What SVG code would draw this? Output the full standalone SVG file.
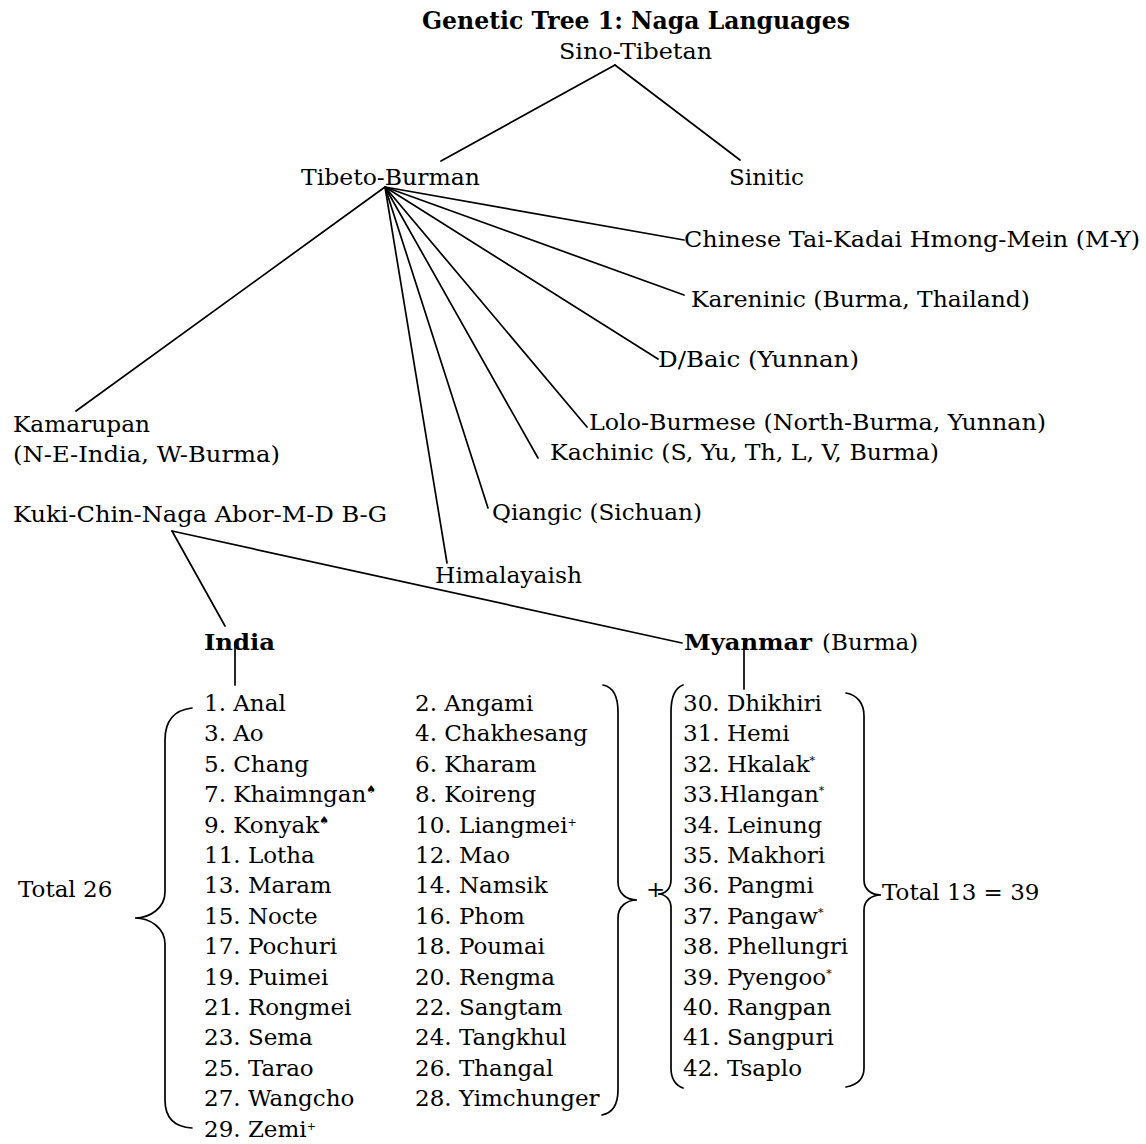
<svg xmlns="http://www.w3.org/2000/svg" width="1146" height="1144" viewBox="0 0 1146 1144">
<style>
text{font-family:"DejaVu Serif","Liberation Serif",serif;font-size:23px;fill:#000}
.b{font-weight:bold}
.t{font-size:24px}
.sup{font-size:11px}
.ln{stroke:#000;stroke-width:1.7;fill:none;stroke-linecap:round}
</style>
<rect width="1146" height="1144" fill="#fff"/>
<g id="connectors" class="ln">
<line x1="615" y1="65" x2="441" y2="161"/>
<line x1="615" y1="65" x2="740" y2="160"/>
<line x1="385" y1="187" x2="76" y2="411"/>
<line x1="385" y1="187" x2="447" y2="563"/>
<line x1="385" y1="187" x2="488" y2="508"/>
<line x1="385" y1="187" x2="538" y2="458"/>
<line x1="385" y1="187" x2="587" y2="427"/>
<line x1="385" y1="187" x2="658" y2="359"/>
<line x1="385" y1="187" x2="684" y2="295"/>
<line x1="385" y1="187" x2="684" y2="240"/>
<line x1="172" y1="531" x2="225" y2="626"/>
<line x1="172" y1="531" x2="682" y2="643"/>
<line x1="235" y1="642" x2="235" y2="685"/>
<line x1="744" y1="642" x2="744" y2="689"/>
<path d="M192,708 C175,710 165,720 165,740 L165,892 C165,908 150,918 135,918 C150,918 165,928 165,944 L165,1100 C165,1118 175,1127 192,1128"/>
<path d="M603,685 C613,687 618,697 618,712 L618,882 C618,894 627,900 637,900 C627,900 618,906 618,918 L618,1090 C618,1105 612,1113 602,1115"/>
<path d="M683,685 C675,688 671,698 671,712 L671,880 C671,889 665,894 658,894 C665,894 671,899 671,908 L671,1068 C671,1078 675,1085 683,1088"/>
<path d="M846,693 C857,695 864,703 864,716 L864,880 C864,890 872,895 881,895 C872,895 864,900 864,910 L864,1068 C864,1080 857,1085 846,1087"/>
</g>
<g id="title"><text class="b t" x="422" y="29" textLength="428" lengthAdjust="spacingAndGlyphs">Genetic Tree 1: Naga Languages</text></g>
<g id="sino-tibetan"><text x="559" y="59" textLength="153" lengthAdjust="spacingAndGlyphs">Sino-Tibetan</text></g>
<g id="tibeto-burman"><text x="301" y="185" textLength="179" lengthAdjust="spacingAndGlyphs">Tibeto-Burman</text></g>
<g id="sinitic"><text x="729" y="185" textLength="75" lengthAdjust="spacingAndGlyphs">Sinitic</text></g>
<g id="chinese"><text x="684" y="247" textLength="456" lengthAdjust="spacingAndGlyphs">Chinese Tai-Kadai Hmong-Mein (M-Y)</text></g>
<g id="kareninic"><text x="691" y="307" textLength="339" lengthAdjust="spacingAndGlyphs">Kareninic (Burma, Thailand)</text></g>
<g id="baic"><text x="658" y="367" textLength="201" lengthAdjust="spacingAndGlyphs">D/Baic (Yunnan)</text></g>
<g id="lolo"><text x="589" y="430" textLength="457" lengthAdjust="spacingAndGlyphs">Lolo-Burmese (North-Burma, Yunnan)</text></g>
<g id="kachinic"><text x="550" y="460" textLength="389" lengthAdjust="spacingAndGlyphs">Kachinic (S, Yu, Th, L, V, Burma)</text></g>
<g id="qiangic"><text x="492" y="520" textLength="210" lengthAdjust="spacingAndGlyphs">Qiangic (Sichuan)</text></g>
<g id="himalayaish"><text x="435" y="583" textLength="147" lengthAdjust="spacingAndGlyphs">Himalayaish</text></g>
<g id="kamarupan">
<text x="13" y="432" textLength="137" lengthAdjust="spacingAndGlyphs">Kamarupan</text>
<text x="13" y="462" textLength="267" lengthAdjust="spacingAndGlyphs">(N-E-India, W-Burma)</text>
</g>
<g id="kuki"><text x="13" y="522" textLength="374" lengthAdjust="spacingAndGlyphs">Kuki-Chin-Naga Abor-M-D B-G</text></g>
<g id="india"><text class="b" x="204" y="650" textLength="71" lengthAdjust="spacingAndGlyphs">India</text></g>
<g id="myanmar"><text x="684" y="650"><tspan class="b" textLength="128" lengthAdjust="spacingAndGlyphs">Myanmar</tspan><tspan x="822">(Burma)</tspan></text></g>
<g id="india-list">
<text x="204" y="711">1. Anal</text>
<text x="204" y="741">3. Ao</text>
<text x="204" y="772">5. Chang</text>
<text x="204" y="802">7. Khaimngan<tspan class="sup" dy="-9">♠</tspan></text>
<text x="204" y="833">9. Konyak<tspan class="sup" dy="-9">♠</tspan></text>
<text x="204" y="863">11. Lotha</text>
<text x="204" y="893">13. Maram</text>
<text x="204" y="924">15. Nocte</text>
<text x="204" y="954">17. Pochuri</text>
<text x="204" y="985">19. Puimei</text>
<text x="204" y="1015">21. Rongmei</text>
<text x="204" y="1045">23. Sema</text>
<text x="204" y="1076">25. Tarao</text>
<text x="204" y="1106">27. Wangcho</text>
<text x="204" y="1137">29. Zemi<tspan class="sup" dy="-7">+</tspan></text>
<text x="415" y="711">2. Angami</text>
<text x="415" y="741">4. Chakhesang</text>
<text x="415" y="772">6. Kharam</text>
<text x="415" y="802">8. Koireng</text>
<text x="415" y="833">10. Liangmei<tspan class="sup" dy="-7">+</tspan></text>
<text x="415" y="863">12. Mao</text>
<text x="415" y="893">14. Namsik</text>
<text x="415" y="924">16. Phom</text>
<text x="415" y="954">18. Poumai</text>
<text x="415" y="985">20. Rengma</text>
<text x="415" y="1015">22. Sangtam</text>
<text x="415" y="1045">24. Tangkhul</text>
<text x="415" y="1076">26. Thangal</text>
<text x="415" y="1106">28. Yimchunger</text>
</g>
<g id="total-india"><text x="18" y="897">Total 26</text></g>
<g id="plus"><text x="646" y="897">+</text></g>
<g id="myanmar-list">
<text x="683" y="711">30. Dhikhiri</text>
<text x="683" y="741">31. Hemi</text>
<text x="683" y="772">32. Hkalak<tspan class="sup" dy="-8">*</tspan></text>
<text x="683" y="802">33.Hlangan<tspan class="sup" dy="-8">*</tspan></text>
<text x="683" y="833">34. Leinung</text>
<text x="683" y="863">35. Makhori</text>
<text x="683" y="893">36. Pangmi</text>
<text x="683" y="924">37. Pangaw<tspan class="sup" dy="-8">*</tspan></text>
<text x="683" y="954">38. Phellungri</text>
<text x="683" y="985">39. Pyengoo<tspan class="sup" dy="-8">*</tspan></text>
<text x="683" y="1015">40. Rangpan</text>
<text x="683" y="1045">41. Sangpuri</text>
<text x="683" y="1076">42. Tsaplo</text>
</g>
<g id="total-myanmar"><text x="882" y="900">Total 13 = 39</text></g>
</svg>
